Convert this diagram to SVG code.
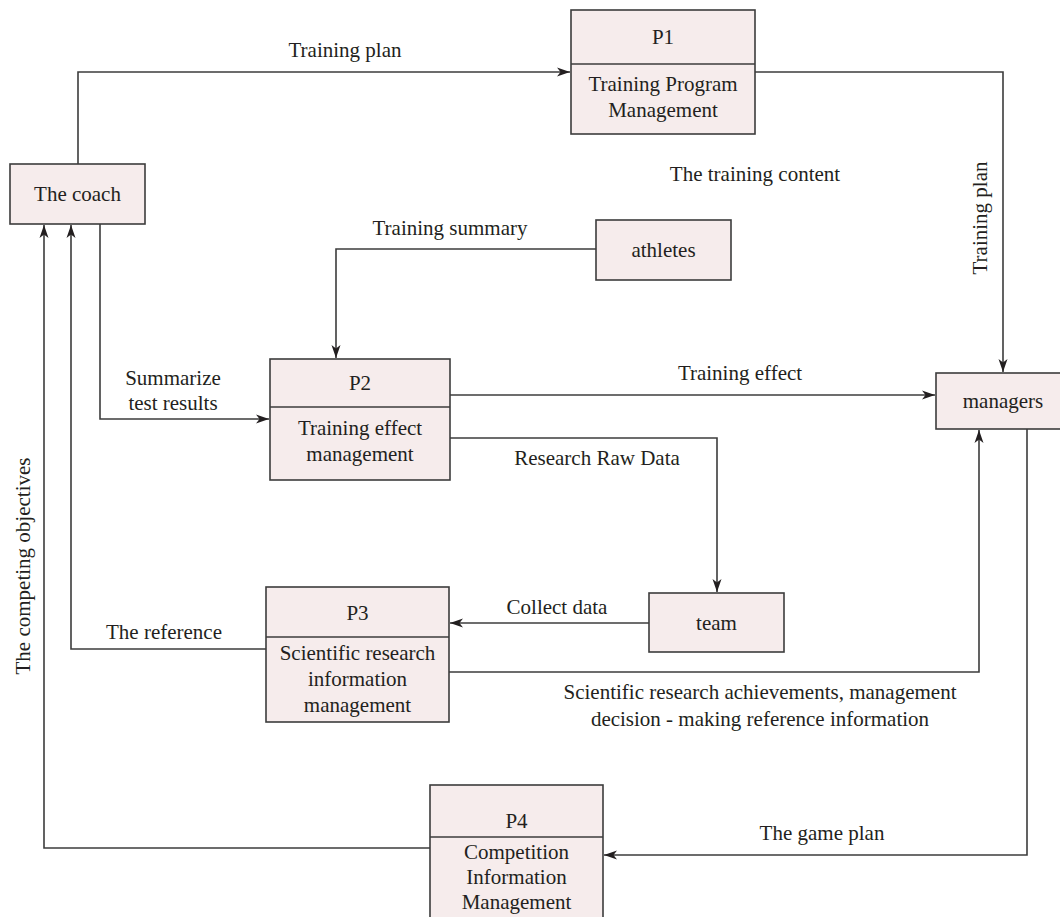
<svg xmlns="http://www.w3.org/2000/svg" width="1060" height="917" viewBox="0 0 1060 917">
<style>
  .box{fill:#f6ecec;stroke:#3c3c3c;stroke-width:1.6}
  .div{stroke:#3c3c3c;stroke-width:1.6;fill:none}
  .ln{fill:none;stroke:#3c3c3c;stroke-width:1.6}
  text{font-family:"Liberation Serif","Times New Roman",serif;font-size:21px;fill:#231f20;text-anchor:middle;dominant-baseline:central}
</style>
<defs>
  <marker id="ah" markerUnits="userSpaceOnUse" markerWidth="14" markerHeight="10" refX="13" refY="5" orient="auto">
    <path d="M0,0.5 L13,5 L0,9.5 L3.5,5 z" fill="#231f20"/>
  </marker>
</defs>
<rect width="1060" height="917" fill="#ffffff"/>

<g id="connectors">
  <path class="ln" d="M78,164 V72 H570" marker-end="url(#ah)"/>
  <path class="ln" d="M755,72 H1003 V372" marker-end="url(#ah)"/>
  <path class="ln" d="M596,249 H336 V358" marker-end="url(#ah)"/>
  <path class="ln" d="M100,224 V419 H269" marker-end="url(#ah)"/>
  <path class="ln" d="M450,395 H935" marker-end="url(#ah)"/>
  <path class="ln" d="M450,438 H717 V592" marker-end="url(#ah)"/>
  <path class="ln" d="M649,623 H450" marker-end="url(#ah)"/>
  <path class="ln" d="M266,649 H71 V225" marker-end="url(#ah)"/>
  <path class="ln" d="M449,672 H979 V430" marker-end="url(#ah)"/>
  <path class="ln" d="M1027,429 V855 H604" marker-end="url(#ah)"/>
  <path class="ln" d="M430,848 H44 V225" marker-end="url(#ah)"/>
  <text x="345" y="50">Training plan</text>
  <text x="755" y="174">The training content</text>
  <text x="980" y="218" transform="rotate(-90 980 218)">Training plan</text>
  <text x="450" y="228">Training summary</text>
  <text x="173" y="378">Summarize</text>
  <text x="173" y="403">test results</text>
  <text x="740" y="373">Training effect</text>
  <text x="597" y="458">Research Raw Data</text>
  <text x="557" y="607">Collect data</text>
  <text x="164" y="632">The reference</text>
  <text x="760" y="692">Scientific research achievements, management</text>
  <text x="760" y="719">decision - making reference information</text>
  <text x="822" y="833">The game plan</text>
  <text x="23" y="566" transform="rotate(-90 23 566)">The competing objectives</text>
</g>

<g id="coach">
  <rect class="box" x="10" y="164" width="135" height="60"/>
  <text x="77.5" y="194">The coach</text>
</g>
<g id="p1">
  <rect class="box" x="571" y="10" width="184" height="124"/>
  <line class="div" x1="571" y1="64" x2="755" y2="64"/>
  <text x="663" y="37">P1</text>
  <text x="663" y="84">Training Program</text>
  <text x="663" y="110">Management</text>
</g>
<g id="athletes">
  <rect class="box" x="596" y="220" width="135" height="60"/>
  <text x="663.5" y="250">athletes</text>
</g>
<g id="p2">
  <rect class="box" x="270" y="359" width="180" height="121"/>
  <line class="div" x1="270" y1="407" x2="450" y2="407"/>
  <text x="360" y="383">P2</text>
  <text x="360" y="428">Training effect</text>
  <text x="360" y="454">management</text>
</g>
<g id="managers">
  <rect class="box" x="936" y="373" width="134" height="56"/>
  <text x="1003" y="401">managers</text>
</g>
<g id="team">
  <rect class="box" x="649" y="593" width="135" height="59"/>
  <text x="716.5" y="623">team</text>
</g>
<g id="p3">
  <rect class="box" x="266" y="587" width="183" height="135"/>
  <line class="div" x1="266" y1="637" x2="449" y2="637"/>
  <text x="357.5" y="613">P3</text>
  <text x="357.5" y="653">Scientific research</text>
  <text x="357.5" y="679">information</text>
  <text x="357.5" y="705">management</text>
</g>
<g id="p4">
  <rect class="box" x="430" y="785" width="173" height="150"/>
  <line class="div" x1="430" y1="837" x2="603" y2="837"/>
  <text x="516.5" y="821">P4</text>
  <text x="516.5" y="852">Competition</text>
  <text x="516.5" y="877">Information</text>
  <text x="516.5" y="902">Management</text>
</g>
</svg>
